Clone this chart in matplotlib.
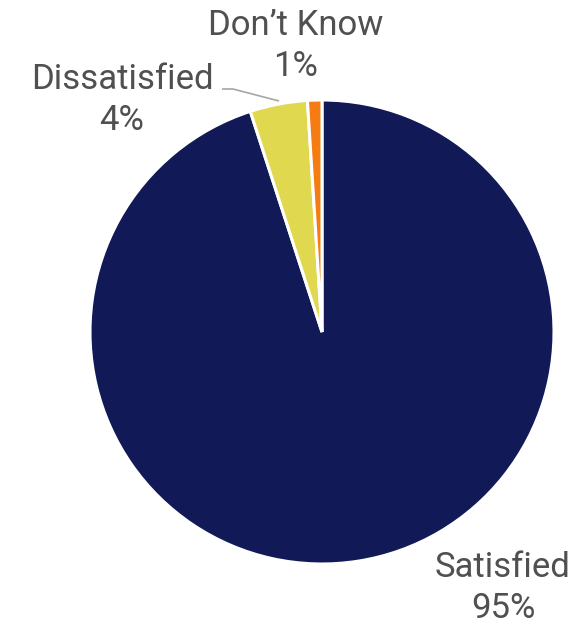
import matplotlib.pyplot as plt

# Data
categories = ["Satisfied", "Dissatisfied", "Don\u2019t Know"]
shares = [95, 4, 1]
colors = ["#111a57", "#e0d84f", "#f57c12"]

W, H, DPI = 588, 628, 100
TEXT_COLOR = "#505050"

plt.rcParams["font.family"] = ["Roboto", "DejaVu Sans"]

fig = plt.figure(figsize=(W / DPI, H / DPI), dpi=DPI)
ax = fig.add_axes([0, 0, 1, 1])

# pie in pixel coords (y measured from bottom)
cx, cy, r = 322, H - 332, 232
ax.pie(shares, colors=colors, startangle=90, counterclock=False,
       center=(cx, cy), radius=r, frame=True,
       wedgeprops={"edgecolor": "white", "linewidth": 2.2})
ax.set_xlim(0, W)
ax.set_ylim(0, H)
ax.set_aspect("equal")
ax.set_axis_off()

label_pos = [(503, H - 588), (122, H - 100), (296, H - 46)]
for name, val, (x, y) in zip(categories, shares, label_pos):
    ax.text(x, y, f"{name}\n{val}%", ha="center", va="center",
            fontsize=25, color=TEXT_COLOR, linespacing=1.3)

# leader line for Dissatisfied
ax.plot([222, 233, 279], [H - 89, H - 89, H - 101], color="#a6a6a6", lw=1.2,
        solid_capstyle="butt")

fig.savefig("out.png", dpi=DPI)
